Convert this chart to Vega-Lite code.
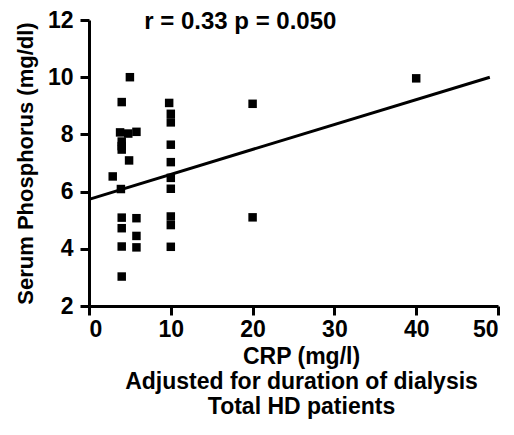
{
  "$schema": "https://vega.github.io/schema/vega-lite/v6.json",
  "autosize": "none",
  "width": 409,
  "height": 286,
  "padding": {"left": 89, "top": 20, "right": 16, "bottom": 129},
  "background": "white",
  "config": {
    "view": {"stroke": null},
    "font": "Liberation Sans",
    "axis": {
      "grid": false,
      "domainColor": "black",
      "domainWidth": 3,
      "tickColor": "black",
      "tickWidth": 3,
      "tickSize": 9,
      "labelFont": "Liberation Sans",
      "labelFontWeight": "bold",
      "labelFontSize": 23,
      "labelColor": "black",
      "titleFont": "Liberation Sans",
      "titleFontWeight": "bold",
      "titleFontSize": 22,
      "titleColor": "black"
    }
  },
  "datasets": {
    "points": [
      {"crp": 5, "phos": 10.0},
      {"crp": 4, "phos": 9.13},
      {"crp": 3.8, "phos": 8.07},
      {"crp": 4.8, "phos": 8.03},
      {"crp": 5.8, "phos": 8.09},
      {"crp": 4, "phos": 7.75},
      {"crp": 4, "phos": 7.59},
      {"crp": 4, "phos": 7.47},
      {"crp": 4.9, "phos": 7.09},
      {"crp": 2.9, "phos": 6.53},
      {"crp": 3.9, "phos": 6.09},
      {"crp": 4, "phos": 5.09},
      {"crp": 4, "phos": 4.72},
      {"crp": 5.8, "phos": 5.07},
      {"crp": 5.8, "phos": 4.45},
      {"crp": 4, "phos": 4.08},
      {"crp": 5.8, "phos": 4.05},
      {"crp": 4, "phos": 3.03},
      {"crp": 9.8, "phos": 9.1},
      {"crp": 10, "phos": 8.72},
      {"crp": 10, "phos": 8.42},
      {"crp": 10, "phos": 7.64},
      {"crp": 10, "phos": 7.03},
      {"crp": 10, "phos": 6.48},
      {"crp": 10, "phos": 6.1},
      {"crp": 10, "phos": 5.13},
      {"crp": 10, "phos": 4.83},
      {"crp": 10, "phos": 4.07},
      {"crp": 20, "phos": 9.07},
      {"crp": 20, "phos": 5.1},
      {"crp": 40, "phos": 9.96}
    ],
    "fit": [
      {"crp": 0, "phos": 5.73},
      {"crp": 49, "phos": 10.0}
    ],
    "note": [
      {"label": "r = 0.33 p = 0.050"}
    ]
  },
  "layer": [
    {
      "data": {"name": "fit"},
      "mark": {"type": "line", "color": "black", "strokeWidth": 3, "clip": false},
      "encoding": {
        "x": {"field": "crp", "type": "quantitative"},
        "y": {"field": "phos", "type": "quantitative"}
      }
    },
    {
      "data": {"name": "points"},
      "mark": {"type": "point", "shape": "square", "filled": true, "color": "black", "opacity": 1, "size": 72},
      "encoding": {
        "x": {
          "field": "crp", "type": "quantitative",
          "scale": {"domain": [0, 50], "nice": false, "zero": false},
          "axis": {
            "values": [0, 10, 20, 30, 40, 50],
            "labelPadding": 3,
            "title": ["CRP (mg/l)", "Adjusted for duration of dialysis", "Total HD patients"],
            "titleFontSize": 23,
            "titleLineHeight": 25,
            "titlePadding": 4,
            "titleX": 212,
            "titleAnchor": "middle",
            "titleAlign": "center"
          }
        },
        "y": {
          "field": "phos", "type": "quantitative",
          "scale": {"domain": [2, 12], "nice": false, "zero": false},
          "axis": {
            "values": [2, 4, 6, 8, 10, 12],
            "labelPadding": 7,
            "title": "Serum Phosphorus (mg/dl)",
            "titlePadding": 10
          }
        }
      }
    },
    {
      "data": {"name": "note"},
      "mark": {"type": "text", "font": "Liberation Sans", "fontWeight": "bold", "fontSize": 24, "color": "black", "align": "center", "baseline": "middle"},
      "encoding": {
        "x": {"datum": 18.5},
        "y": {"datum": 11.93},
        "text": {"field": "label"}
      }
    }
  ]
}
